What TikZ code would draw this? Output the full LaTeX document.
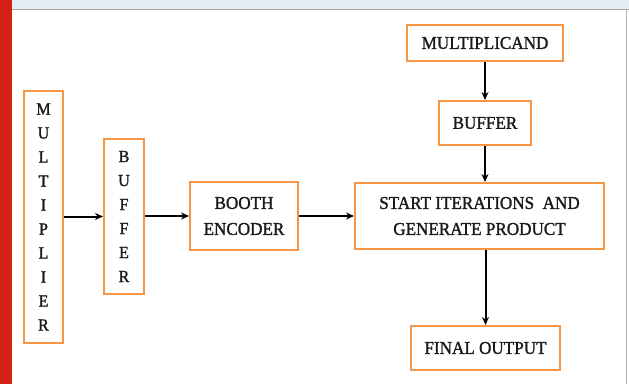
\documentclass[tikz,border=0pt]{standalone}
\usepackage{fontspec}
\setmainfont{Liberation Serif}
\newfontfamily\boxfont{Liberation Serif}[FakeStretch=0.95,BoldFont={Liberation Serif},BoldFeatures={FakeBold=1.4,FakeStretch=0.95}]
\usetikzlibrary{arrows.meta}
\definecolor{boxorange}{HTML}{F79646}
\definecolor{topband}{HTML}{E4EBF3}
\definecolor{redbar}{HTML}{D42015}
\definecolor{txt}{HTML}{1A1A1A}
\begin{document}
\begin{tikzpicture}[x=1pt,y=-1pt,
  blk/.style={draw=boxorange,line width=2pt,fill=white,inner sep=0pt,align=center,
    text=txt,font=\boxfont\bfseries\fontsize{18}{26}\selectfont},
  vert/.style={blk,font=\boxfont\bfseries\fontsize{17}{24}\selectfont},
  arr/.style={-{Stealth[length=8pt,width=7pt]},line width=2pt,black}]
\useasboundingbox (0,0) rectangle (629,384);
\fill[white] (0,0) rectangle (629,384);
\fill[topband] (0,0) rectangle (629,9);
\draw[gray!70,line width=1.2pt] (0,9.5) -- (629,9.5);
\draw[gray!60,line width=1pt] (626.5,9.5) -- (626.5,384);
\fill[redbar] (0,0) rectangle (12,384);
\node[vert,minimum width=39pt,minimum height=252pt] (mult) at (43.5,217)
  {M\\U\\L\\T\\I\\P\\L\\I\\E\\R};
\node[vert,minimum width=40pt,minimum height=155pt] (buf1) at (124,216.5)
  {B\\U\\F\\F\\E\\R};
\node[blk,minimum width=108pt,minimum height=68pt] (booth) at (244,216)
  {BOOTH\\ENCODER};
\node[blk,minimum width=249pt,minimum height=66pt] (start) at (479.5,216)
  {START ITERATIONS\ \ AND\\GENERATE PRODUCT};
\node[blk,minimum width=156pt,minimum height=36pt] (mcand) at (485,43)
  {MULTIPLICAND};
\node[blk,minimum width=92pt,minimum height=44pt] (buf2) at (485,123)
  {BUFFER};
\node[blk,minimum width=149pt,minimum height=44pt] (final) at (485.5,348)
  {FINAL OUTPUT};
\draw[arr] (mult.east |- buf1.west) -- (buf1.west);
\draw[arr] (buf1.east |- booth.west) -- (booth.west);
\draw[arr] (booth.east) -- (start.west);
\draw[arr] (mcand.south) -- (buf2.north);
\draw[arr] (buf2.south) -- (start.north -| buf2.south);
\draw[arr] (start.south -| final.north) -- (final.north);
\end{tikzpicture}
\end{document}
